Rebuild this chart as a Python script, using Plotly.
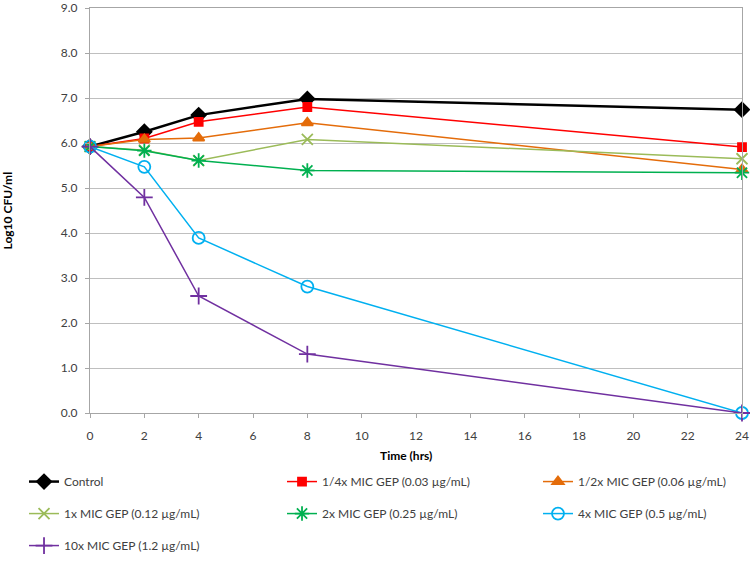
import plotly.graph_objects as go

time_hrs = [0, 2, 4, 8, 24]
series_names = [
    "Control",
    "1/4x MIC GEP (0.03 µg/mL)",
    "1/2x MIC GEP (0.06 µg/mL)",
    "1x MIC GEP (0.12 µg/mL)",
    "2x MIC GEP (0.25 µg/mL)",
    "4x MIC GEP (0.5 µg/mL)",
    "10x MIC GEP (1.2 µg/mL)",
]
control = [5.92, 6.25, 6.62, 6.98, 6.74]
mic_quarter = [5.92, 6.10, 6.47, 6.80, 5.91]
mic_half = [5.92, 6.08, 6.11, 6.45, 5.41]
mic_1x = [5.92, 5.84, 5.61, 6.08, 5.65]
mic_2x = [5.92, 5.83, 5.61, 5.39, 5.34]
mic_4x = [5.92, 5.47, 3.89, 2.81, 0.0]
mic_10x = [5.92, 4.79, 2.60, 1.31, 0.0]

y_ticks = [0, 1, 2, 3, 4, 5, 6, 7, 8, 9]
x_ticks = [0, 2, 4, 6, 8, 10, 12, 14, 16, 18, 20, 22, 24]
x_title = "Time (hrs)"
y_title = "Log10 CFU/ml"

all_series = [control, mic_quarter, mic_half, mic_1x, mic_2x, mic_4x, mic_10x]
colors = ["#000000", "#FF0000", "#E46C0A", "#9BBB59", "#00B050", "#00B0F0", "#7030A0"]
symbols = ["diamond", "square", "triangle-up", "x-thin-open", "asterisk-open", "circle-open", "cross-thin-open"]
sizes = [11, 8, 10, 11, 12, 12, 12]
line_widths = [2.5, 1.5, 1.5, 1.5, 1.5, 1.5, 1.5]
# legend columns: col1 = Control, 1x, 10x ; col2 = 1/4x, 2x ; col3 = 1/2x, 4x
legend_ids = ["legend", "legend2", "legend3", "legend", "legend2", "legend3", "legend"]

fig = go.Figure()
for i, (name, vals, c, s, sz, lw, lg) in enumerate(zip(series_names, all_series, colors, symbols, sizes, line_widths, legend_ids)):
    fig.add_trace(go.Scatter(
        x=time_hrs, y=vals, name=name, mode="lines+markers",
        line=dict(color=c, width=lw),
        marker=dict(symbol=s, size=sz, color=c, line=dict(color=c, width=1.8)),
        cliponaxis=False, legend=lg, legendgroup=f"g{i}",
    ))

font_family = "Lato, 'Open Sans', sans-serif"
legend_common = dict(
    orientation="v", xanchor="left", yanchor="top",
    traceorder="grouped", tracegroupgap=13,
    font=dict(family=font_family, size=12, color="#404040"),
    bgcolor="rgba(0,0,0,0)", y=-0.1335,
)

fig.update_layout(
    width=750, height=568,
    margin=dict(l=90, r=8, t=8, b=143),
    paper_bgcolor="white", plot_bgcolor="white",
    hovermode=False,
    font=dict(family=font_family, size=12, color="#404040"),
    xaxis=dict(
        range=[0, 24], tickvals=x_ticks, ticktext=[str(v) for v in x_ticks],
        showgrid=False, showline=True, linecolor="#A6A6A6", linewidth=1, mirror=True,
        ticks="outside", ticklen=4, tickcolor="#A6A6A6", ticklabelstandoff=8,
        tickfont=dict(size=12, color="#404040"), ticklabeloverflow="allow",
        zeroline=False, automargin=False,
    ),
    yaxis=dict(
        range=[0, 9], tickvals=y_ticks, ticktext=[f"{v:.1f}" for v in y_ticks],
        showgrid=True, gridcolor="#BFBFBF", gridwidth=1,
        showline=True, linecolor="#A6A6A6", linewidth=1, mirror=True,
        ticks="outside", ticklen=4, tickcolor="#A6A6A6", ticklabelstandoff=5,
        tickfont=dict(size=12, color="#404040"), ticklabeloverflow="allow",
        zeroline=False, automargin=False,
    ),
    legend=dict(**legend_common, x=-0.1012),
    legend2=dict(**legend_common, x=0.2945),
    legend3=dict(**legend_common, x=0.6871),
    annotations=[
        dict(text=f"<b>{x_title}</b>", xref="paper", yref="paper", x=0.4847, y=-0.1055,
             xanchor="center", yanchor="middle", showarrow=False,
             font=dict(family=font_family, size=12, color="#000000")),
        dict(text=f"<b>{y_title}</b>", xref="paper", yref="paper", x=-0.1273, y=0.5,
             xanchor="center", yanchor="middle", showarrow=False, textangle=-90,
             font=dict(family=font_family, size=12, color="#000000")),
    ],
)

fig.write_html(
    "out.html",
    config={"displayModeBar": False},
    post_script="document.body.style.margin='0';document.body.style.overflow='hidden';",
)
